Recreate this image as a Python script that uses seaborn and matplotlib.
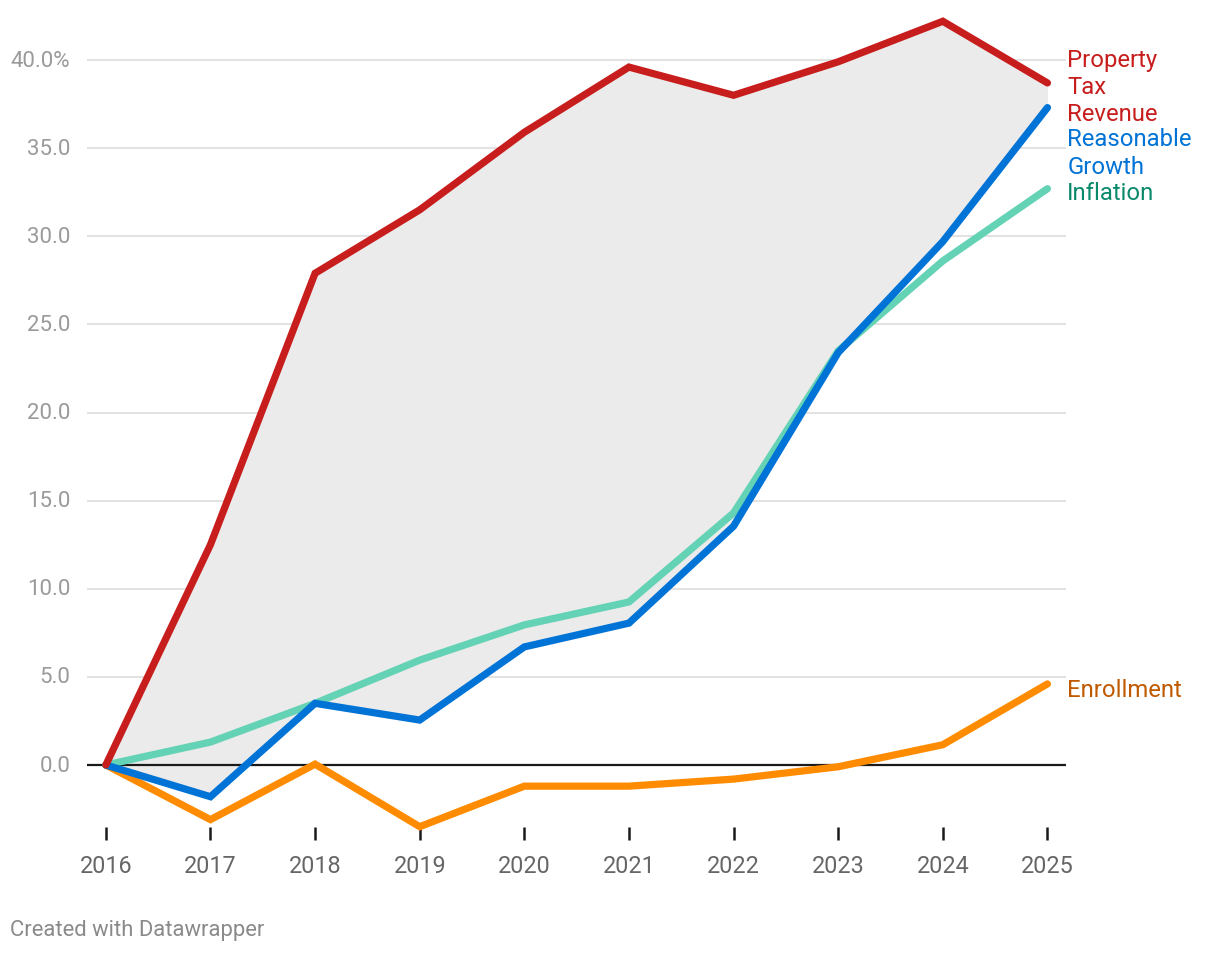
import numpy as np
import pandas as pd
import matplotlib
matplotlib.use('Agg')
import matplotlib.pyplot as plt
import seaborn as sns

years = [2016, 2017, 2018, 2019, 2020, 2021, 2022, 2023, 2024, 2025]
property_tax = [0.0, 12.5, 27.9, 31.5, 35.9, 39.6, 38.0, 39.9, 42.2, 38.7]
reasonable_growth = [0.0, -1.8, 3.5, 2.55, 6.7, 8.05, 13.55, 23.4, 29.7, 37.3]
inflation = [0.0, 1.3, 3.5, 5.95, 7.95, 9.25, 14.3, 23.5, 28.6, 32.7]
enrollment = [0.0, -3.1, 0.05, -3.5, -1.2, -1.2, -0.8, -0.1, 1.15, 4.6]

series_names = ['Property Tax Revenue', 'Reasonable Growth', 'Inflation', 'Enrollment']
line_colors = ['#c71e1d', '#0073d6', '#63d2b5', '#ff8c00']
label_colors = ['#c71e1d', '#0073d6', '#0a8a6a', '#c05a00']
label_texts = ['Property\nTax\nRevenue', 'Reasonable\nGrowth', 'Inflation', 'Enrollment']
label_y = [38.5, 34.75, 32.5, 4.3]

yticks = [0, 5, 10, 15, 20, 25, 30, 35, 40]
ytick_labels = ['0.0', '5.0', '10.0', '15.0', '20.0', '25.0', '30.0', '35.0', '40.0%']

df = pd.DataFrame({
    'year': years * 4,
    'value': property_tax + reasonable_growth + inflation + enrollment,
    'series': np.repeat(series_names, len(years)),
})

sns.set_style('white')
plt.rcParams['font.family'] = ['Roboto', 'DejaVu Sans']

fig = plt.figure(figsize=(12.2, 9.54), dpi=100)
ax = fig.add_axes([0.0713, 0.1324, 0.8027, 0.8572])

ax.fill_between(years, reasonable_growth, property_tax, color='#ebebeb', lw=0, zorder=1)
ax.axhline(0, color='#1a1a1a', lw=1.6, zorder=2)

# draw orange first, then green, blue, red on top
order = ['Enrollment', 'Inflation', 'Reasonable Growth', 'Property Tax Revenue']
for i, name in enumerate(order):
    sns.lineplot(
        x='year', y='value', data=df[df['series'] == name],
        color=line_colors[series_names.index(name)], linewidth=5.2,
        solid_capstyle='round', solid_joinstyle='miter', ax=ax, zorder=3 + i,
        legend=False, clip_on=False
    )

ax.set_xlim(2016 - 0.18, 2025 + 0.18)
ax.set_ylim(-3.5, 42.9)
ax.set_yticks(yticks)
ax.set_yticklabels(ytick_labels)
ax.set_xticks(years)
ax.set_xticklabels([str(y) for y in years])
ax.set_xlabel('')
ax.set_ylabel('')
ax.grid(axis='y', color='#dddddd', lw=1.2)
ax.set_axisbelow(True)
for s in ax.spines.values():
    s.set_visible(False)

ax.tick_params(axis='y', length=0, pad=12, labelsize=16, labelcolor='#9a9a9a')
ax.tick_params(axis='x', direction='out', length=9, width=1.8, color='#1a1a1a',
               pad=11, labelsize=16.8, labelcolor='#666666', bottom=True)
for lbl in ax.get_yticklabels():
    lbl.set_verticalalignment('center')

for txt, yv, c in zip(label_texts, label_y, label_colors):
    ax.text(2025.19, yv, txt, color=c, fontsize=17.2, va='center', ha='left',
            linespacing=1.23)

fig.text(0.008, 0.025, 'Created with Datawrapper', color='#8a8a8a', fontsize=15.8,
         ha='left', va='center')

fig.savefig('out.png', dpi=100)
